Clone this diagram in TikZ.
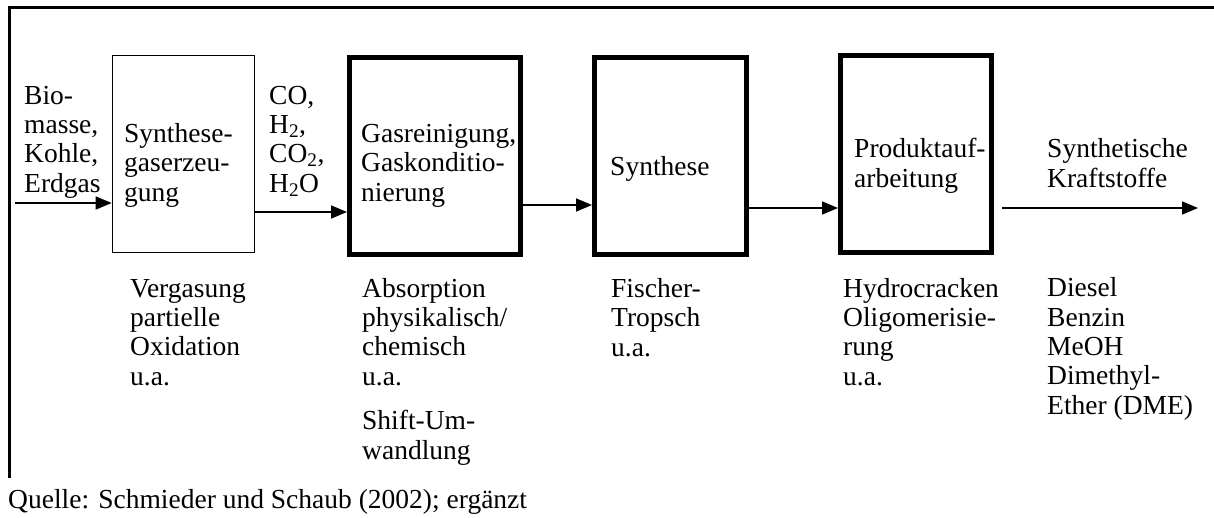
\documentclass[tikz,border=0pt]{standalone}
\usepackage{fontspec}
\setmainfont{Liberation Serif}
\usetikzlibrary{arrows.meta}
\begin{document}
\begin{tikzpicture}[x=1pt,y=-1pt,
  txt/.style={anchor=base west,align=left,inner sep=0pt,font=\fontsize{27.5}{29.3}\selectfont},
  thinbox/.style={draw,line width=1.6pt,inner sep=0pt},
  thickbox/.style={draw,line width=5pt,inner sep=0pt},
  arr/.style={line width=1.6pt,-{Triangle[length=16pt,width=13pt]}},
  frame/.style={line width=3pt}
]
\useasboundingbox (0,0) rectangle (1214,517);
% frame
\coordinate (fr1) at (9,478);
\coordinate (fr2) at (9,7);
\coordinate (fr3) at (1214,7);
\draw[frame] (fr1) -- (fr2) -- (fr3);
% boxes
\node[thinbox,minimum width=142pt,minimum height=197pt] (b1) at (183.5,154) {};
\node[thickbox,minimum width=171pt,minimum height=197pt] (b2) at (435,156) {};
\node[thickbox,minimum width=152pt,minimum height=197pt] (b3) at (670.5,156) {};
\node[thickbox,minimum width=151pt,minimum height=197pt] (b4) at (916,154) {};
% texts (anchor = baseline of the last line)
\node[txt] (tin) at (24,192) {Bio-\\masse,\\Kohle,\\Erdgas};
\node[txt] (t1) at (124,201) {Synthese-\\gaserzeu-\\gung};
\node[txt] (tgas) at (269,192) {CO,\\H\textsubscript{2},\\CO\textsubscript{2},\\H\textsubscript{2}O};
\node[txt] (t2) at (361,201) {Gasreinigung,\\Gaskonditio-\\nierung};
\node[txt] (t3) at (610,175) {Synthese};
\node[txt] (t4) at (854,187) {Produktauf-\\arbeitung};
\node[txt] (tout) at (1047,187) {Synthetische\\Kraftstoffe};
\node[txt] (u1) at (130,385) {Vergasung\\partielle\\Oxidation\\u.a.};
\node[txt] (u2) at (362,385) {Absorption\\physikalisch/\\chemisch\\u.a.};
\node[txt] (u2b) at (362,459) {Shift-Um-\\wandlung};
\node[txt] (u3) at (611,356) {Fischer-\\Tropsch\\u.a.};
\node[txt] (u4) at (843,385) {Hydrocracken\\Oligomerisie-\\rung\\u.a.};
\node[txt] (u5) at (1047,414) {Diesel\\Benzin\\MeOH\\Dimethyl-\\Ether (DME)};
\node[txt] (src) at (8,508) {Quelle: Schmieder und Schaub (2002); ergänzt};
% arrows
\coordinate (in) at (15,203);
\draw[arr] (in) -- (b1.west |- in);
\coordinate (a2) at (0,212);
\draw[arr] (b1.east |- a2) -- (b2.west |- a2);
\coordinate (a3) at (0,205);
\draw[arr] (b2.east |- a3) -- (b3.west |- a3);
\coordinate (a4) at (0,208);
\draw[arr] (b3.east |- a4) -- (b4.west |- a4);
\coordinate (o1) at (1002,208);
\coordinate (o2) at (1198,208);
\draw[arr] (o1) -- (o2);
\end{tikzpicture}
\end{document}
